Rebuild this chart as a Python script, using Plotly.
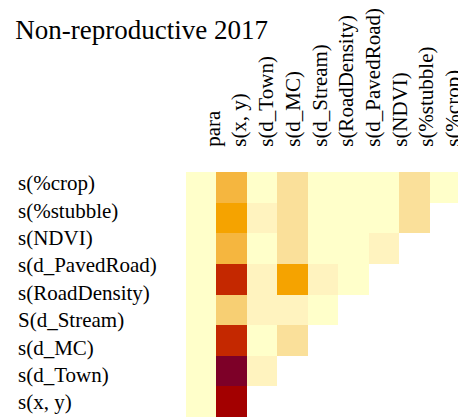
import plotly.graph_objects as go

# ---- data ----
col_labels = ["para", "s(x, y)", "s(d_Town)", "s(d_MC)", "s(d_Stream)", "s(RoadDensity)",
              "s(d_PavedRoad)", "s(NDVI)", "s(%stubble)", "s(%crop)"]
row_labels = ["s(%crop)", "s(%stubble)", "s(NDVI)", "s(d_PavedRoad)", "s(RoadDensity)",
              "S(d_Stream)", "s(d_MC)", "s(d_Town)", "s(x, y)"]

# heatmap values, top row first (None = empty cell)
row1 = [0.02, 0.45, 0.02, 0.25, 0.02, 0.02, 0.02, 0.25, 0.02]
row2 = [0.02, 0.55, 0.10, 0.25, 0.02, 0.02, 0.02, 0.25, None]
row3 = [0.02, 0.45, 0.02, 0.25, 0.02, 0.02, 0.10, None, None]
row4 = [0.02, 0.75, 0.10, 0.55, 0.10, 0.02, None, None, None]
row5 = [0.02, 0.35, 0.10, 0.10, 0.02, None, None, None, None]
row6 = [0.02, 0.75, 0.02, 0.25, None, None, None, None, None]
row7 = [0.02, 1.00, 0.10, None, None, None, None, None, None]
row8 = [0.02, 0.87, None, None, None, None, None, None, None]

rows_top_first = [row1, row2, row3, row4, row5, row6, row7, row8]
z = rows_top_first[::-1]  # bottom row first for plotting

colorscale = [
    [0.00, "#FFFFCA"],
    [0.02, "#FFFFCA"],
    [0.10, "#FFF3BF"],
    [0.25, "#FAE09A"],
    [0.35, "#F7CF73"],
    [0.45, "#F5B63F"],
    [0.55, "#F5A300"],
    [0.75, "#C42800"],
    [0.87, "#A30000"],
    [1.00, "#7D0028"],
]

ncols = len(row1)
nrows = len(rows_top_first)

fig = go.Figure(go.Heatmap(
    z=z,
    x=list(range(ncols)),
    y=list(range(nrows)),
    colorscale=colorscale,
    zmin=0, zmax=1,
    showscale=False,
    hoverongaps=False,
))

# tick label placement (data units)
x0, dx = 0.387, 0.876
xtickvals = [x0 + i * dx for i in range(len(col_labels))]
y0, dy = 7.131, -0.894

FONT = "Liberation Serif, Times New Roman, serif"

# page has an 8px body margin; figure is sized to fill the rest
W, H = 458, 411

annotations = []
for i, lab in enumerate(row_labels):
    annotations.append(dict(
        text=lab, xref="paper", yref="y",
        x=(16 - 186) / 274.0, y=y0 + i * dy,
        xanchor="left", yanchor="middle", showarrow=False,
        font=dict(family=FONT, size=21, color="black"),
    ))

fig.update_layout(
    width=W, height=H,
    margin=dict(l=178, r=6, t=164, b=2),
    paper_bgcolor="white", plot_bgcolor="white",
    title=dict(
        text="Non-reproductive 2017",
        font=dict(family=FONT, size=27, color="black"),
        xref="container", x=260 / W, xanchor="right",
        yref="container", y=1 - 22 / H, yanchor="middle",
    ),
    xaxis=dict(
        range=[-0.5, ncols - 0.5], side="top", automargin=False,
        tickmode="array", tickvals=xtickvals, ticktext=col_labels,
        tickangle=-90, tickfont=dict(family=FONT, size=21, color="black"),
        ticks="outside", ticklen=20, tickcolor="rgba(0,0,0,0)",
        showgrid=False, zeroline=False, showline=False, fixedrange=True,
    ),
    yaxis=dict(
        range=[-0.5, nrows - 0.5], showticklabels=False, ticks="",
        automargin=False,
        showgrid=False, zeroline=False, showline=False, fixedrange=True,
    ),
    annotations=annotations,
)

fig.write_html("out.html")
